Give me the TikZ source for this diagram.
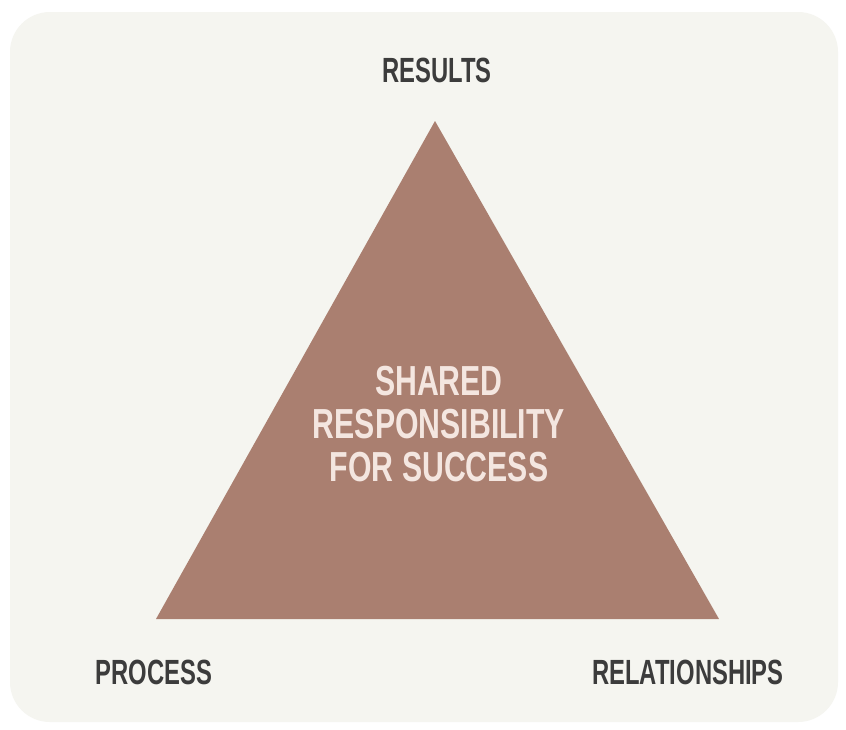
\documentclass[tikz,border=0pt]{standalone}
\usepackage{fontspec}
\newfontfamily\condfont[FakeStretch=0.68]{Liberation Sans}
\newfontfamily\condfontb[FakeStretch=0.72]{Liberation Sans}
\definecolor{bgcol}{HTML}{F5F5F0}
\definecolor{tricol}{HTML}{AA7F70}
\definecolor{labcol}{HTML}{3C3C3C}
\definecolor{inncol}{HTML}{F4E6E0}
\begin{document}
\begin{tikzpicture}[x=1pt,y=-1pt,
  lab/.style={font=\condfont\bfseries\fontsize{35}{35}\selectfont, text=labcol, inner sep=0pt},
  inner/.style={font=\condfontb\bfseries\fontsize{42}{43}\selectfont, text=inncol, align=center, inner sep=0pt}]
\useasboundingbox (0,0) rectangle (846,729);
\fill[white] (0,0) rectangle (846,729);
\fill[bgcol, rounded corners=40pt] (10,12) rectangle (838,722);
\coordinate (top) at (435,121);
\coordinate (bl) at (156,619);
\coordinate (br) at (719,619);
\fill[tricol] (top) -- (bl) -- (br) -- cycle;
\node[lab] (results) at (437,70) {RESULTS};
\node[lab] (process) at (154,672) {PROCESS};
\node[lab] (relations) at (688,672) {RELATIONSHIPS};
\node[inner] (center) at (439,424) {SHARED\\RESPONSIBILITY\\FOR SUCCESS};
\end{tikzpicture}
\end{document}
